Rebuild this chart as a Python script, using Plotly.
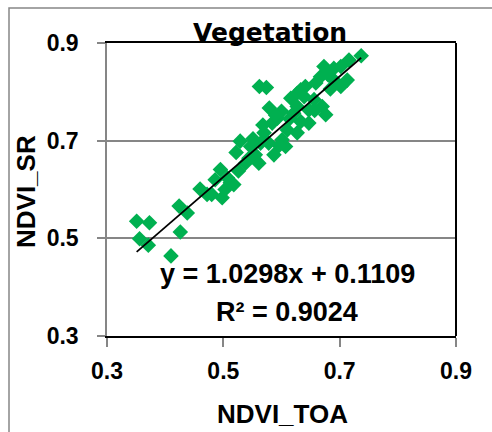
import plotly.graph_objects as go

# Data (NDVI_TOA vs NDVI_SR, vegetation pixels)
ndvi_toa = [0.351, 0.373, 0.356, 0.371, 0.410, 0.424, 0.438, 0.426, 0.460, 0.472,
            0.486, 0.480, 0.495, 0.498, 0.518, 0.503, 0.512, 0.529, 0.547, 0.538,
            0.555, 0.561, 0.562, 0.574, 0.570, 0.579, 0.584, 0.593, 0.587, 0.578,
            0.601, 0.607, 0.610, 0.616, 0.627, 0.633, 0.641, 0.621, 0.627, 0.647,
            0.633, 0.647, 0.627, 0.656, 0.659, 0.667, 0.673, 0.676, 0.670, 0.690,
            0.690, 0.702, 0.713, 0.716, 0.737, 0.702, 0.564,
            0.507, 0.526, 0.544, 0.551, 0.596, 0.614, 0.639, 0.657, 0.684, 0.600,
            0.522, 0.568, 0.590, 0.680]
ndvi_sr = [0.535, 0.532, 0.499, 0.486, 0.464, 0.566, 0.552, 0.513, 0.601, 0.590,
           0.620, 0.590, 0.641, 0.583, 0.610, 0.600, 0.614, 0.699, 0.688, 0.654,
           0.671, 0.654, 0.811, 0.809, 0.716, 0.767, 0.736, 0.746, 0.671, 0.695,
           0.702, 0.688, 0.722, 0.787, 0.797, 0.804, 0.811, 0.756, 0.770, 0.763,
           0.739, 0.736, 0.716, 0.784, 0.818, 0.831, 0.852, 0.753, 0.770, 0.848,
           0.824, 0.811, 0.824, 0.865, 0.874, 0.852, 0.695,
           0.624, 0.638, 0.664, 0.704, 0.690, 0.745, 0.790, 0.762, 0.806, 0.760,
           0.676, 0.732, 0.752, 0.835]

slope = 1.0298
intercept = 0.1109
r2 = 0.9024
tick_vals = [0.3, 0.5, 0.7, 0.9]
tick_text = ["0.3", "0.5", "0.7", "0.9"]

GREEN = "rgb(0,176,80)"
GRAY = "#868686"
FONT = "Liberation Sans, Arial, sans-serif"

xmin, xmax = min(ndvi_toa), max(ndvi_toa)
fit_x = [xmin, xmax]
fit_y = [slope * v + intercept for v in fit_x]

fig = go.Figure()
fig.add_trace(go.Scatter(
    x=ndvi_toa, y=ndvi_sr, mode="markers",
    marker=dict(symbol="diamond", size=12, color=GREEN, line=dict(width=0)),
    showlegend=False, hoverinfo="x+y"))
fig.add_trace(go.Scatter(
    x=fit_x, y=fit_y, mode="lines",
    line=dict(color="black", width=1.75), showlegend=False, hoverinfo="skip"))

W, H = 492, 432
L, R, T, B = 107, 456, 43, 336

def px(xp):
    return (xp - L) / (R - L)

def py(yp):
    return (B - yp) / (B - T)

fig.update_layout(
    width=W, height=H,
    margin=dict(l=L, r=W - R, t=T, b=H - B),
    paper_bgcolor="white", plot_bgcolor="white",
    showlegend=False,
    xaxis=dict(range=[0.3, 0.9], tickvals=tick_vals, ticktext=tick_text,
               showgrid=False, zeroline=False,
               showline=True, linecolor="black", linewidth=2, mirror=True,
               ticks="outside", ticklen=9, tickcolor=GRAY, tickwidth=1.5,
               ticklabelstandoff=4,
               tickfont=dict(family=FONT, size=23, color="black", weight="bold")),
    yaxis=dict(range=[0.3, 0.9], tickvals=tick_vals, ticktext=tick_text,
               showgrid=True, gridcolor=GRAY, gridwidth=1.5, zeroline=False,
               showline=True, linecolor=GRAY, linewidth=1.5,
               ticks="outside", ticklen=8, tickcolor=GRAY, tickwidth=1.5,
               ticklabelstandoff=14,
               tickfont=dict(family=FONT, size=23, color="black", weight="bold")),
    shapes=[
        dict(type="line", xref="paper", yref="paper", x0=1, x1=1, y0=0, y1=1,
             line=dict(color="black", width=2)),
        dict(type="path", xref="paper", yref="paper",
             path=f"M {px(9)},{py(440)} L {px(9)},{py(8)} L {px(500)},{py(8)}",
             line=dict(color=GRAY, width=1.5)),
    ],
    annotations=[
        dict(text="Vegetation", xref="paper", yref="paper", x=px(270), y=py(32),
             xanchor="center", yanchor="middle", showarrow=False,
             font=dict(family="DejaVu Sans, sans-serif", size=25, color="black", weight="bold")),
        dict(text="NDVI_TOA", xref="paper", yref="paper", x=px(282), y=py(414),
             xanchor="center", yanchor="middle", showarrow=False,
             font=dict(family=FONT, size=26, color="black", weight="bold")),
        dict(text="NDVI_SR", xref="paper", yref="paper", x=px(26), y=py(192),
             xanchor="center", yanchor="middle", showarrow=False, textangle=-90,
             font=dict(family=FONT, size=26, color="black", weight="bold")),
        dict(text=f"y = {slope:.4f}x + {intercept:.4f}", xref="paper", yref="paper",
             x=px(287), y=py(274), xanchor="center", yanchor="middle", showarrow=False,
             font=dict(family=FONT, size=27, color="black", weight="bold")),
        dict(text=f"R² = {r2:.4f}", xref="paper", yref="paper",
             x=px(287), y=py(312), xanchor="center", yanchor="middle", showarrow=False,
             font=dict(family=FONT, size=27, color="black", weight="bold")),
    ],
)

fig.write_html("out.html")
